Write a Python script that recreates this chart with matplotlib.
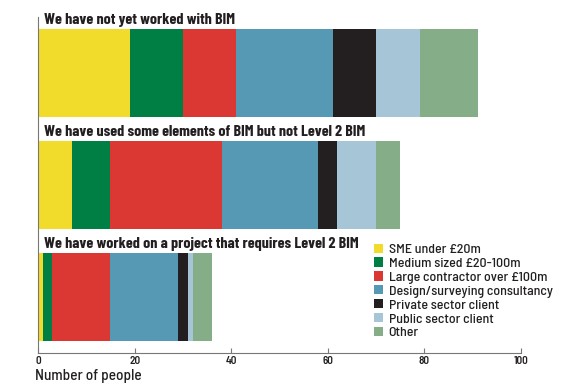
import matplotlib
matplotlib.use("Agg")
import matplotlib.pyplot as plt
import numpy as np

groups = ["We have not yet worked with BIM",
          "We have used some elements of BIM but not Level 2 BIM",
          "We have worked on a project that requires Level 2 BIM"]
series = ["SME under £20m", "Medium sized £20-100m", "Large contractor over £100m",
          "Design/surveying consultancy", "Private sector client",
          "Public sector client", "Other"]
sme = [19, 7, 1]
medium = [11, 8, 2]
large = [11, 23, 12]
design = [20, 20, 14]
private = [9, 4, 2]
public = [9, 8, 1]
other = [12, 5, 4]
values = [sme, medium, large, design, private, public, other]
colors = ["#F2DC2B", "#007F45", "#DB3833", "#5599B4", "#231F20", "#A6C5D7", "#85AD88"]
xticks = [0, 20, 40, 60, 80, 100]

fam = ['Barlow Semi Condensed', 'DejaVu Sans']
title_fam = ['Barlow Condensed', 'DejaVu Sans']
plt.rcParams['font.family'] = fam

fig = plt.figure(figsize=(5.76, 3.89), dpi=100)
ax = fig.add_axes([38/576, 1 - 353/389, (521-38)/576, (353-17)/389])

y = np.arange(len(groups))
left = np.zeros(len(groups))
for vals, col, lab in zip(values, colors, series):
    ax.barh(y, vals, left=left, height=0.79, color=col, label=lab, linewidth=0)
    left += np.array(vals)

for i, g in enumerate(groups):
    ax.text(1.2, i - 0.475, g, fontsize=11.5, fontweight='bold', va='center', ha='left',
            color='#231F20', family=title_fam)

ax.set_xlim(0, 100)
ax.set_ylim(2.5, -0.5)
ax.set_xticks(xticks)
ax.set_xticklabels([str(t) for t in xticks], fontsize=8, color='#231F20', fontweight='semibold')
ax.tick_params(axis='x', direction='in', length=3.5, width=0.8, color='#777777', pad=2.5)
ax.set_yticks([])
for s in ['top', 'right']:
    ax.spines[s].set_visible(False)
ax.spines['left'].set_color('#777777')
ax.spines['bottom'].set_color('#777777')
ax.spines['left'].set_linewidth(0.8)
ax.spines['bottom'].set_linewidth(0.8)

fig.text(35/576, 1 - 376/389, "Number of people", fontsize=11, va='center', ha='left',
         color='#231F20', fontweight='medium')

leg = ax.legend(loc='upper left', bbox_to_anchor=(374/576, 1 - 243.5/389),
                bbox_transform=fig.transFigure, frameon=False,
                handlelength=0.65, handleheight=0.65, handletextpad=0.41,
                labelspacing=0.1, borderpad=0, borderaxespad=0,
                prop={'family': fam, 'size': 10, 'weight': 'medium'})
for t in leg.get_texts():
    t.set_color('#231F20')

fig.savefig("out.png", dpi=100)
